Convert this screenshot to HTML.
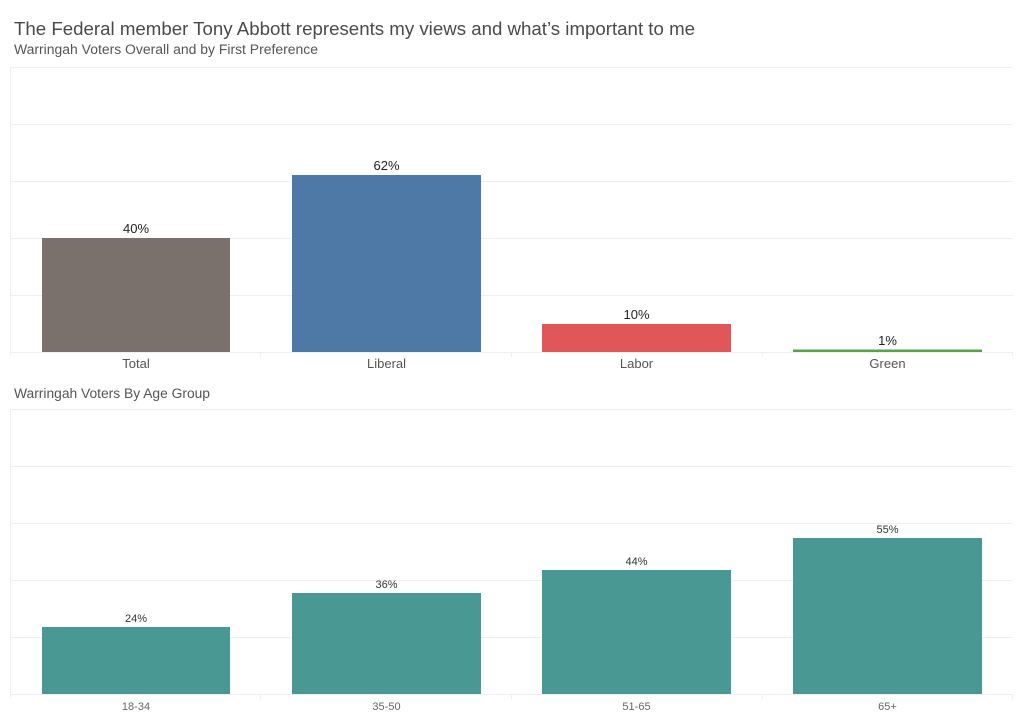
<!DOCTYPE html>
<html><head><meta charset="utf-8"><style>
html,body{margin:0;padding:0;background:#fff;}
svg{display:block;}
text{font-family:"Liberation Sans",sans-serif;}
</style></head><body>
<svg width="1024" height="724" viewBox="0 0 1024 724" xmlns="http://www.w3.org/2000/svg">
<rect width="1024" height="724" fill="#fff"/>
<text x="14" y="35" font-size="18" fill="#4a4a4a" textLength="681" lengthAdjust="spacingAndGlyphs">The Federal member Tony Abbott represents my views and what’s important to me</text>
<text x="14" y="54" font-size="13.5" fill="#555" textLength="304" lengthAdjust="spacingAndGlyphs">Warringah Voters Overall and by First Preference</text>

<!-- top panel grid -->
<g stroke="#efefef" stroke-width="1">
<line x1="10" y1="67.5" x2="1013" y2="67.5"/>
<line x1="10" y1="124.5" x2="1013" y2="124.5"/>
<line x1="10" y1="181.5" x2="1013" y2="181.5"/>
<line x1="10" y1="238.5" x2="1013" y2="238.5"/>
<line x1="10" y1="295.5" x2="1013" y2="295.5"/>
<line x1="10" y1="352.5" x2="1013" y2="352.5"/>
<line x1="10.5" y1="67" x2="10.5" y2="356"/>
<line x1="260.5" y1="352" x2="260.5" y2="357"/>
<line x1="511.5" y1="352" x2="511.5" y2="357"/>
<line x1="762.5" y1="352" x2="762.5" y2="357"/>
<line x1="1012.5" y1="352" x2="1012.5" y2="357"/>
</g>
<rect x="42" y="238" width="188" height="114" fill="#7a706c"/>
<rect x="292" y="175" width="189" height="177" fill="#4e79a7"/>
<rect x="542" y="324" width="189" height="28" fill="#e15759"/>
<rect x="793" y="349.5" width="189" height="2.5" fill="#59a14f"/>
<g font-size="13" fill="#222" text-anchor="middle">
<text x="136" y="233">40%</text>
<text x="386.5" y="170">62%</text>
<text x="636.5" y="319">10%</text>
<text x="887.5" y="345">1%</text>
</g>
<g font-size="13" fill="#555" text-anchor="middle">
<text x="136" y="368">Total</text>
<text x="386.5" y="368">Liberal</text>
<text x="636.5" y="368">Labor</text>
<text x="887.5" y="368">Green</text>
</g>

<text x="14" y="398" font-size="13.5" fill="#555" textLength="196" lengthAdjust="spacingAndGlyphs">Warringah Voters By Age Group</text>

<!-- bottom panel grid -->
<g stroke="#efefef" stroke-width="1">
<line x1="10" y1="409.5" x2="1013" y2="409.5"/>
<line x1="10" y1="466.5" x2="1013" y2="466.5"/>
<line x1="10" y1="523.5" x2="1013" y2="523.5"/>
<line x1="10" y1="580.5" x2="1013" y2="580.5"/>
<line x1="10" y1="637.5" x2="1013" y2="637.5"/>
<line x1="10" y1="694.5" x2="1013" y2="694.5"/>
<line x1="10.5" y1="409" x2="10.5" y2="698"/>
<line x1="260.5" y1="694" x2="260.5" y2="699"/>
<line x1="511.5" y1="694" x2="511.5" y2="699"/>
<line x1="762.5" y1="694" x2="762.5" y2="699"/>
<line x1="1012.5" y1="694" x2="1012.5" y2="699"/>
</g>
<g fill="#499894">
<rect x="42" y="627" width="188" height="67"/>
<rect x="292" y="593" width="189" height="101"/>
<rect x="542" y="570" width="189" height="124"/>
<rect x="793" y="538" width="189" height="156"/>
</g>
<g font-size="11" fill="#333" text-anchor="middle">
<text x="136" y="622">24%</text>
<text x="386.5" y="588">36%</text>
<text x="636.5" y="565">44%</text>
<text x="887.5" y="533">55%</text>
</g>
<g font-size="11" fill="#666" text-anchor="middle">
<text x="136" y="710">18-34</text>
<text x="386.5" y="710">35-50</text>
<text x="636.5" y="710">51-65</text>
<text x="887.5" y="710">65+</text>
</g>
</svg>
</body></html>
